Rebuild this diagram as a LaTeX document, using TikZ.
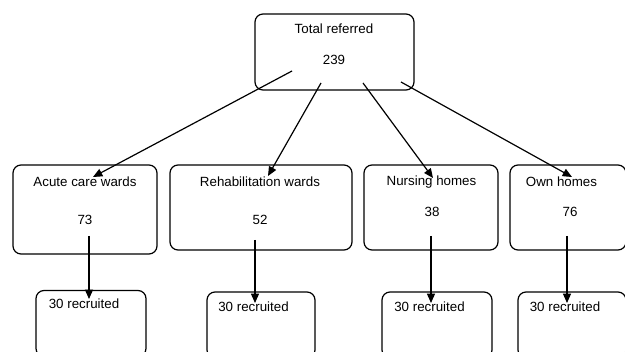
\documentclass[tikz,border=0pt]{standalone}
\usepackage{fontspec}
\setmainfont{Liberation Sans}
\usetikzlibrary{arrows.meta,positioning}

\begin{document}
\begin{tikzpicture}[x=0.75pt,y=-0.75pt,>={Triangle[length=7pt,width=6pt]},
    box/.style={draw,line width=0.9pt,rounded corners=6pt,inner sep=0pt},
    lbl/.style={font=\fontsize{10}{12}\selectfont,inner sep=1pt},
    link/.style={line width=0.9pt,->}]
  \useasboundingbox (0,0) rectangle (625,352);
  \clip (0,0) rectangle (625,352);
  % top box
  \node[box,minimum width=119.25pt,minimum height=57pt] (total) at (334.5,52) {};
  \node[lbl] (totalt) at (334,29) {Total referred};
  \node[lbl] (totaln) at (334,60) {239};
  % second row: name / centre x / centre y / width / height / text x / number x / number y
  \foreach \n/\cx/\cy/\w/\h/\tx/\nx/\ny/\txt/\num in {
      acute/85/209.5/144/89/85/85/220/Acute care wards/73,
      rehab/261/207.5/182/85/260/260/220/Rehabilitation wards/52,
      nurse/431/207.5/134/85/431.5/432/212/Nursing homes/38,
      own/568/207.5/116/85/561.5/570/212/Own homes/76}{
    \node[box,minimum width=0.75*\w pt,minimum height=0.75*\h pt] (\n) at (\cx,\cy) {};
    \node[lbl] (\n t) at (\tx,182) {\txt};
    \node[lbl] (\n n) at (\nx,\ny) {\num};
  }
  % third row
  \foreach \n/\cx/\cy/\w/\tx/\ty in {
      acute/91/323.5/110/84/304,
      rehab/261/325/108/253.5/307,
      nurse/437/325/110/429.5/307,
      own/572/325/108/565/307}{
    \node[box,minimum width=0.75*\w pt,minimum height=49.5pt] (\n r) at (\cx,\cy) {};
    \node[lbl] (\n rt) at (\tx,\ty) {30 recruited};
  }
  % end points of the links
  \coordinate (s1) at (292,71);  \coordinate (e1) at (93,177);
  \coordinate (s2) at (321,83);  \coordinate (e2) at (268,176);
  \coordinate (s3) at (363,83);  \coordinate (e3) at (433,178);
  \coordinate (s4) at (401,82);  \coordinate (e4) at (572,177);
  \coordinate (d1) at (89,236);  \coordinate (f1) at (89,299);
  \coordinate (d2) at (255,240); \coordinate (f2) at (255,303);
  \coordinate (d3) at (431,236); \coordinate (f3) at (431,303);
  \coordinate (d4) at (567,236); \coordinate (f4) at (567,303);
  \foreach \k in {1,2,3,4}{
    \draw[link] (s\k) -- (e\k);
    \draw[link] (d\k) -- (f\k);
  }
\end{tikzpicture}
\end{document}
